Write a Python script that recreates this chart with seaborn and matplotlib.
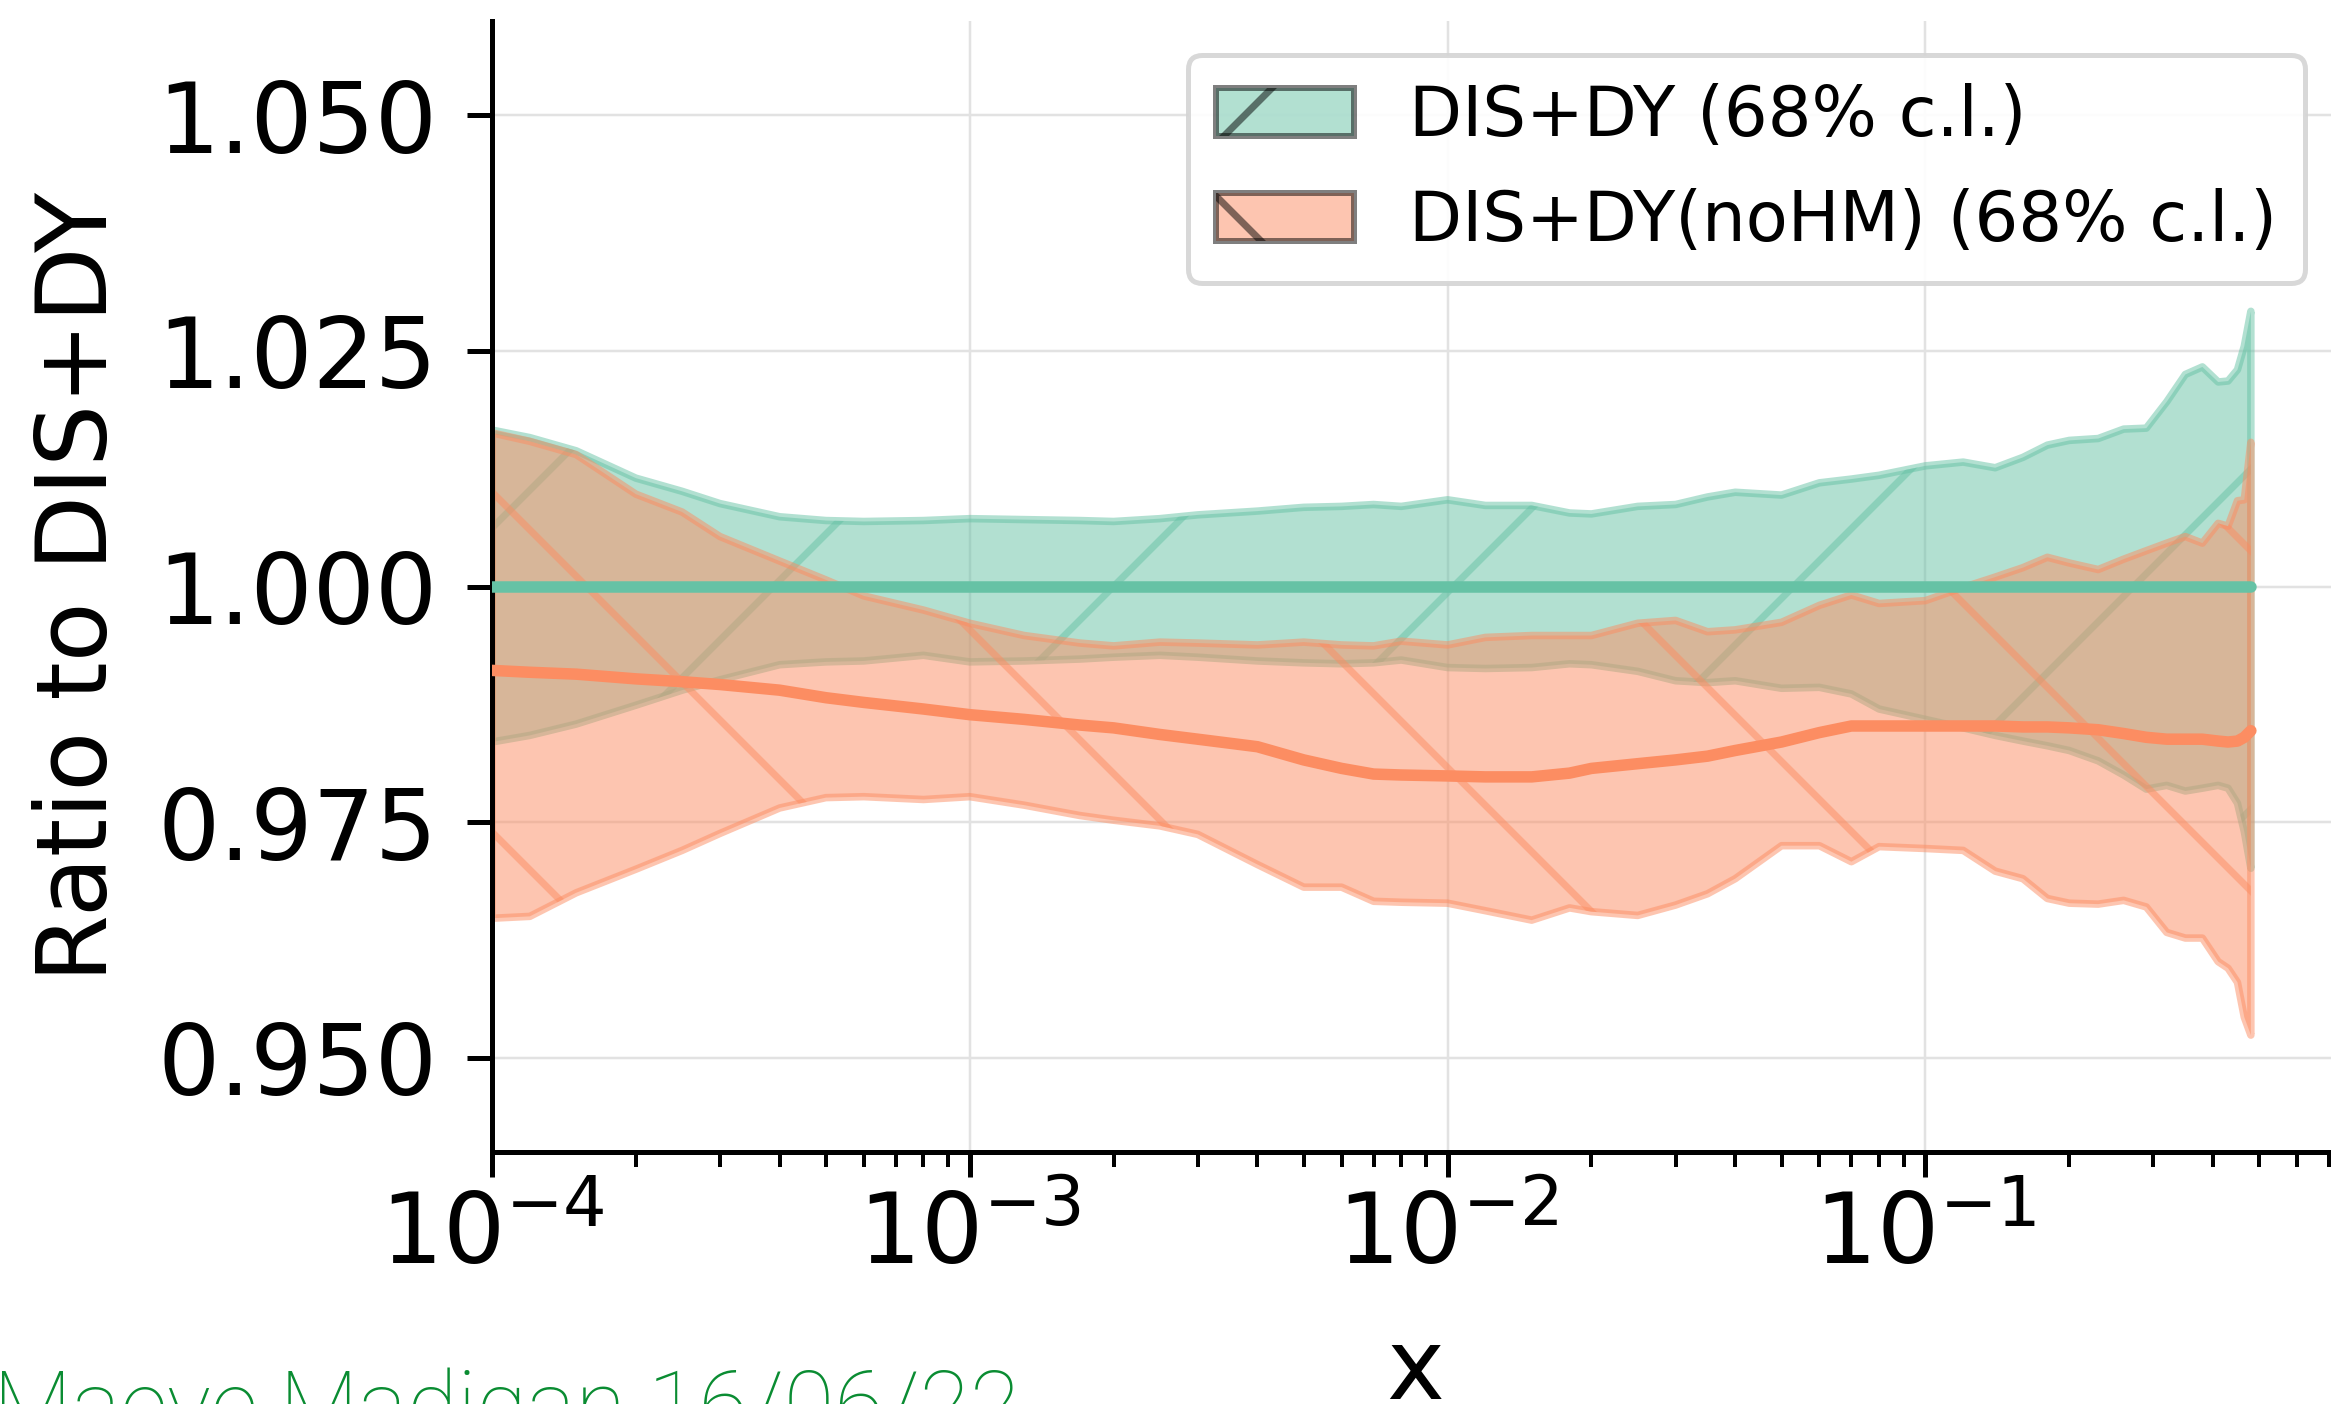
import numpy as np
import pandas as pd
import matplotlib
matplotlib.use("Agg")
import matplotlib.pyplot as plt
import matplotlib.patches as mpatches
from matplotlib.ticker import FixedLocator, FormatStrFormatter
import seaborn as sns

# ---------------- data ----------------
x_values = [1e-4, 1.2e-4, 1.5e-4, 2e-4, 2.5e-4, 3e-4, 4e-4, 5e-4, 6e-4, 8e-4,
            1e-3, 1.3e-3, 1.7e-3, 2e-3, 2.5e-3, 3e-3, 4e-3, 5e-3, 6e-3, 7e-3, 8e-3,
            1e-2, 1.2e-2, 1.5e-2, 1.8e-2, 2e-2, 2.5e-2, 3e-2, 3.5e-2, 4e-2, 5e-2,
            6e-2, 7e-2, 8e-2, 1e-1, 1.2e-1, 1.4e-1, 1.6e-1, 1.8e-1, 2e-1, 2.3e-1,
            2.6e-1, 2.9e-1, 3.2e-1, 3.5e-1, 3.8e-1, 4.1e-1, 4.3e-1, 4.5e-1, 4.65e-1, 4.8e-1]

dis_dy_upper = [1.0166, 1.0158, 1.0144, 1.0115, 1.0101, 1.0088, 1.0074, 1.0070, 1.0069, 1.0070,
                1.0072, 1.0071, 1.0070, 1.0069, 1.0072, 1.0076, 1.0080, 1.0084, 1.0085, 1.0087, 1.0085,
                1.0092, 1.0086, 1.0086, 1.0078, 1.0077, 1.0085, 1.0087, 1.0095, 1.0100, 1.0097,
                1.0110, 1.0114, 1.0118, 1.0128, 1.0132, 1.0126, 1.0137, 1.0150, 1.0155, 1.0157,
                1.0167, 1.0168, 1.0196, 1.0225, 1.0233, 1.0217, 1.0218, 1.0230, 1.0255, 1.0292]

dis_dy_lower = [0.9835, 0.9842, 0.9854, 0.9874, 0.9890, 0.9901, 0.9917, 0.9920, 0.9921, 0.9927,
                0.9920, 0.9921, 0.9923, 0.9925, 0.9927, 0.9925, 0.9921, 0.9919, 0.9918, 0.9919, 0.9922,
                0.9914, 0.9913, 0.9914, 0.9918, 0.9917, 0.9910, 0.9900, 0.9898, 0.9900, 0.9892,
                0.9893, 0.9886, 0.9870, 0.9859, 0.9850, 0.9842, 0.9836, 0.9831, 0.9826, 0.9815,
                0.9800, 0.9785, 0.9789, 0.9783, 0.9786, 0.9789, 0.9786, 0.9770, 0.9740, 0.9701]

dis_dy_central = [1.0] * 51

nohm_upper = [1.0163, 1.0154, 1.0140, 1.0098, 1.0079, 1.0053, 1.0027, 1.0007, 0.9990, 0.9975,
              0.9961, 0.9948, 0.9940, 0.9937, 0.9941, 0.9940, 0.9938, 0.9941, 0.9938, 0.9937, 0.9942,
              0.9938, 0.9946, 0.9948, 0.9948, 0.9948, 0.9961, 0.9964, 0.9952, 0.9954, 0.9962,
              0.9980, 0.9991, 0.9982, 0.9985, 0.9999, 1.0010, 1.0020, 1.0031, 1.0025, 1.0018,
              1.0029, 1.0038, 1.0046, 1.0053, 1.0046, 1.0067, 1.0064, 1.0091, 1.0092, 1.0153]

nohm_lower = [0.9648, 0.9650, 0.9675, 0.9700, 0.9720, 0.9738, 0.9765, 0.9776, 0.9777, 0.9774,
              0.9777, 0.9768, 0.9757, 0.9752, 0.9746, 0.9737, 0.9705, 0.9681, 0.9681, 0.9666, 0.9665,
              0.9664, 0.9656, 0.9646, 0.9659, 0.9655, 0.9651, 0.9662, 0.9674, 0.9690, 0.9725,
              0.9725, 0.9708, 0.9724, 0.9722, 0.9720, 0.9698, 0.9690, 0.9669, 0.9664, 0.9663,
              0.9667, 0.9660, 0.9633, 0.9627, 0.9627, 0.9602, 0.9595, 0.9580, 0.9543, 0.9524]

nohm_central = [0.9911, 0.9909, 0.9907, 0.9902, 0.9899, 0.9896, 0.9890, 0.9882, 0.9877, 0.9870,
                0.9864, 0.9859, 0.9853, 0.9850, 0.9843, 0.9838, 0.9830, 0.9816, 0.9807, 0.9801, 0.9800,
                0.9799, 0.9798, 0.9798, 0.9802, 0.9807, 0.9812, 0.9816, 0.9820, 0.9826, 0.9835,
                0.9845, 0.9852, 0.9852, 0.9852, 0.9852, 0.9852, 0.9851, 0.9851, 0.9850, 0.9848,
                0.9844, 0.9840, 0.9838, 0.9838, 0.9838, 0.9836, 0.9835, 0.9836, 0.9840, 0.9847]

series_labels = ["DIS+DY (68% c.l.)", "DIS+DY(noHM) (68% c.l.)"]
y_ticks = [0.950, 0.975, 1.000, 1.025, 1.050]
x_label = "x"
y_label = "Ratio to DIS+DY"
signature = "Maeve Madigan 16/06/22"

# ---------------- styling ----------------
W, H = 2331, 1404
DPI = 1020
PX = 72.0 / DPI          # points per output pixel

sns.set_theme(style="ticks")
plt.rcParams["font.family"] = ["DejaVu Sans"]
plt.rcParams["mathtext.fontset"] = "dejavusans"
plt.rcParams["hatch.linewidth"] = 7 * PX

palette = sns.color_palette("Set2")
green, orange = palette[0], palette[1]

fig = plt.figure(figsize=(W / DPI, H / DPI), dpi=DPI)
ax = fig.add_axes([492 / W, (H - 1152) / H, (2339 - 492) / W, (1152 - 21) / H])

df_dis = pd.DataFrame({"x": x_values, "lo": dis_dy_lower, "hi": dis_dy_upper, "c": dis_dy_central})
df_nohm = pd.DataFrame({"x": x_values, "lo": nohm_lower, "hi": nohm_upper, "c": nohm_central})

ax.fill_between(df_dis["x"], df_dis["lo"], df_dis["hi"], facecolor=green, edgecolor=green,
                alpha=0.5, hatch="/", linewidth=7.5 * PX, zorder=2)
ax.fill_between(df_nohm["x"], df_nohm["lo"], df_nohm["hi"], facecolor=orange, edgecolor=orange,
                alpha=0.5, hatch="\\", linewidth=7.5 * PX, zorder=2)

sns.lineplot(data=df_dis, x="x", y="c", ax=ax, color=green, linewidth=11.5 * PX,
             estimator=None, sort=False, legend=False, zorder=3)
sns.lineplot(data=df_nohm, x="x", y="c", ax=ax, color=orange, linewidth=11.5 * PX,
             estimator=None, sort=False, legend=False, zorder=3)

ax.set_xscale("log")
ax.set_xlim(1e-4, 0.734)
ax.set_ylim(0.94, 1.06)
ax.yaxis.set_major_locator(FixedLocator(y_ticks))
ax.yaxis.set_major_formatter(FormatStrFormatter("%.3f"))

ax.set_axisbelow(True)
ax.grid(True, which="major", color="#e2e2e2", linewidth=2.5 * PX)
ax.grid(False, which="minor")

sns.despine(ax=ax)
for side in ("left", "bottom"):
    ax.spines[side].set_linewidth(5 * PX)
    ax.spines[side].set_color("black")

FS = 6.92
ax.tick_params(axis="both", which="major", length=25 * PX, width=5 * PX, labelsize=FS,
               color="black", labelcolor="black", direction="out")
ax.tick_params(axis="both", which="minor", length=15 * PX, width=4 * PX, color="black",
               direction="out")
ax.tick_params(axis="y", which="major", pad=30 * PX)
ax.tick_params(axis="x", which="major", pad=12 * PX)

ax.set_xlabel(x_label, fontsize=FS, color="black", labelpad=40 * PX)
ax.set_ylabel(y_label, fontsize=FS, color="black", labelpad=30 * PX)

handles = [
    mpatches.Patch(facecolor=green, edgecolor="black", alpha=0.5, hatch="/", linewidth=6 * PX,
                   label=series_labels[0]),
    mpatches.Patch(facecolor=orange, edgecolor="black", alpha=0.5, hatch="\\", linewidth=6 * PX,
                   label=series_labels[1]),
]
leg = ax.legend(handles=handles, loc="upper right", fontsize=4.87, frameon=True, fancybox=True,
                framealpha=0.9, edgecolor="0.83", labelspacing=0.55)
leg.get_frame().set_linewidth(5 * PX)
for t in leg.get_texts():
    t.set_color("black")

fig.text(-0.003, -0.0235, signature, color="#0a8c32", fontsize=6.5,
         family=["Roboto", "DejaVu Sans"], fontweight="light", va="baseline", ha="left")

fig.savefig("out.png", dpi=DPI)
